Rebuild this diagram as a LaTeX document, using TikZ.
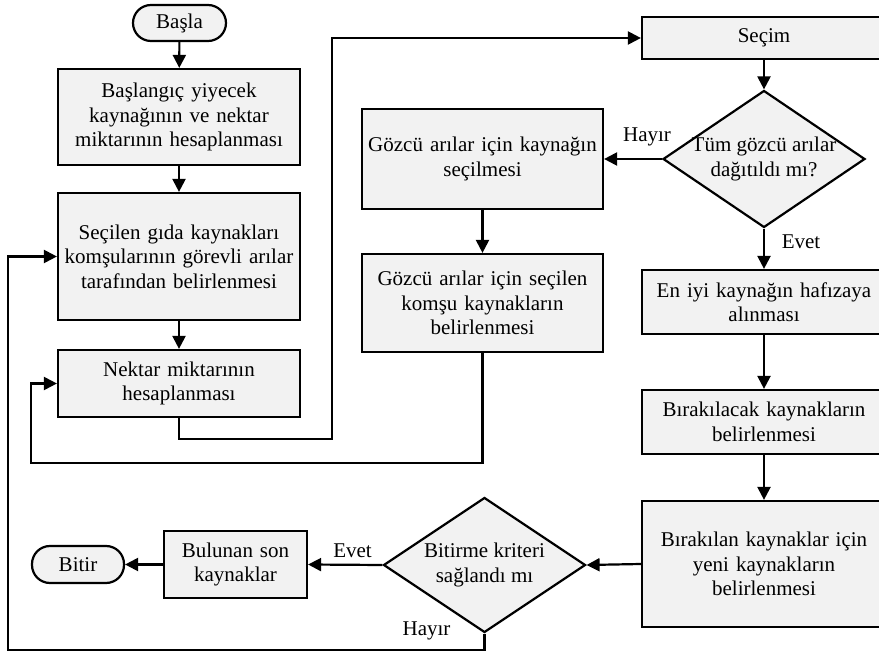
\documentclass[tikz,border=0pt]{standalone}
\usepackage{fontspec}
\setmainfont{Liberation Serif}
\usetikzlibrary{arrows.meta,shapes.geometric}
\definecolor{boxfill}{HTML}{F2F2F2}
\tikzset{
  txt/.style={font=\fontsize{21}{24.5}\selectfont},
  box/.style={draw, line width=2.2pt, fill=boxfill, rectangle, inner sep=0pt,
    align=center, txt},
  term/.style={box, rounded corners=18pt},
  decision/.style={draw, line width=2.2pt, fill=boxfill, diamond, inner sep=0pt},
  dtext/.style={align=center, txt, inner sep=0pt},
  lbl/.style={txt, inner sep=0pt},
  conn/.style={line width=2.2pt, -{Triangle[length=13pt,width=13pt]}},
}
\begin{document}
\begin{tikzpicture}[x=1pt,y=-1pt]
\useasboundingbox (0,0) rectangle (879,655);
\clip (0,0) rectangle (879,655);

% left column
\node[term, minimum width=93, minimum height=36] (basla) at (179.5,23) {Başla};
\node[box, minimum width=242, minimum height=96, text width=238] (b1) at (179,117)
  {Başlangıç yiyecek\\kaynağının ve nektar\\miktarının hesaplanması};
\node[box, minimum width=242, minimum height=127, text width=238] (b2) at (179,256.5)
  {Seçilen gıda kaynakları\\komşularının görevli arılar\\tarafından belirlenmesi};
\node[box, minimum width=242, minimum height=67, text width=238] (b3) at (179,383.5)
  {Nektar miktarının\\hesaplanması};

% middle column
\node[box, minimum width=241, minimum height=100, text width=238] (g1) at (482.5,159)
  {Gözcü arılar için kaynağın\\seçilmesi};
\node[box, minimum width=241, minimum height=98, text width=238] (g2) at (482.5,303)
  {Gözcü arılar için seçilen\\komşu kaynakların\\belirlenmesi};

% right column (boxes run past the right edge)
\node[box, minimum width=244, minimum height=42, text width=238] (secim) at (764,38) {Seçim};
\node[decision, minimum width=202, minimum height=137] (d1) at (764,159) {};
\node[dtext] (d1t) at (d1.center) {Tüm gözcü arılar\\dağıtıldı mı?};
\node[box, minimum width=244, minimum height=64, text width=238] (eniyi) at (764,302)
  {En iyi kaynağın hafızaya\\alınması};
\node[box, minimum width=244, minimum height=64, text width=238] (birakilacak) at (764,422)
  {Bırakılacak kaynakların\\belirlenmesi};
\node[box, minimum width=244, minimum height=126, text width=238] (birakilan) at (764,564)
  {Bırakılan kaynaklar için\\yeni kaynakların\\belirlenmesi};

% bottom row
\node[decision, minimum width=202, minimum height=135] (d2) at (484.5,565) {};
\node[dtext] (d2t) at (d2.center) {Bitirme kriteri\\sağlandı mı};
\node[box, minimum width=143, minimum height=67, text width=140] (bulunan) at (235.5,564.5)
  {Bulunan son\\kaynaklar};
\node[term, minimum width=92, minimum height=37] (bitir) at (78,564.5) {Bitir};

% loop corners
\coordinate (c1) at (332,439);
\coordinate (c2) at (31,463);
\coordinate (c3) at (8,650);

% connectors
\draw[conn] (basla) -- (b1);
\draw[conn] (b1) -- (b2);
\draw[conn] (b2) -- (b3);
\draw[conn] (b3.south) |- (c1) |- (secim.west);
\draw[conn] (secim) -- (d1);
\draw[conn] (d1.west) -- (g1.east);
\draw[conn] (g1) -- (g2);
\draw[conn] (g2.south) |- (c2) |- (b3.west);
\draw[conn] (d1.south) -- (eniyi.north);
\draw[conn] (eniyi) -- (birakilacak);
\draw[conn] (birakilacak) -- (birakilan);
\draw[conn] (birakilan.west) -- (d2.east);
\draw[conn] (d2.west) -- (bulunan.east);
\draw[conn] (bulunan.west) -- (bitir.east);
\draw[conn] (d2.south) |- (c3) |- (b2.west);

% branch labels
\node[lbl] (l1) at (647,137) {Hayır};
\node[lbl] (l2) at (801,242) {Evet};
\node[lbl] (l3) at (352.5,551) {Evet};
\node[lbl] (l4) at (426.5,631) {Hayır};
\end{tikzpicture}
\end{document}
